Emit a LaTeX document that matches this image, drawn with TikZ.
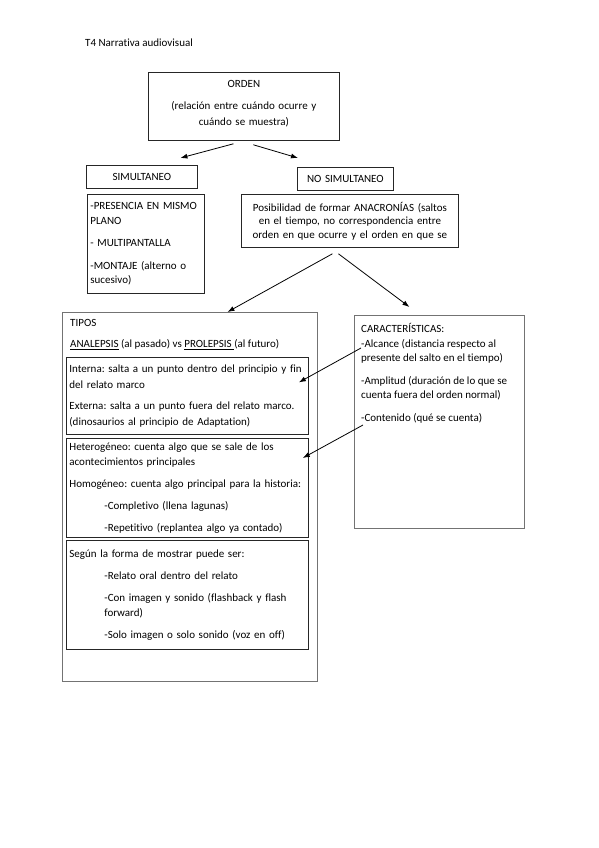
\documentclass[tikz,border=0pt]{standalone}
\usepackage{fontspec}
\setmainfont{Carlito}[Ligatures={TeX,NoCommon}]
\frenchspacing
\usetikzlibrary{calc,arrows.meta}
\tikzset{
  caja/.style={draw=black!85, line width=0.8pt, anchor=north west, inner xsep=3pt, inner ysep=0pt, font=\fontsize{11}{15.5}\selectfont},
  marco/.style={draw=black!55, line width=0.9pt, anchor=north west, inner sep=0pt},
  texto/.style={anchor=north west, inner sep=0pt, align=left, font=\fontsize{11}{14.5}\selectfont},
  flecha/.style={-{Latex[length=7pt,width=5pt]}, line width=0.8pt}
}

\begin{document}
\begin{tikzpicture}[x=1pt,y=-1pt]
	\fill[white] (0,0) rectangle (599,848);
	\useasboundingbox (0,0) rectangle (599,848);

	\node[texto, anchor=west] (titulo) at (85,43) {T4 Narrativa audiovisual};

	% orden y sus dos ramas
	\node[caja, text width=185pt, minimum height=68pt, align=center] (orden) at (148,72)
		{ORDEN\\[6.5pt](relación entre cuándo ocurre y\\cuándo se muestra)\\[-9pt]\mbox{}};
	\node[caja, text width=105pt, minimum height=23pt, align=center] (simultaneo) at (86,165) {SIMULTANEO};
	\node[caja, text width=90pt, minimum height=23pt, align=center] (nosimultaneo) at (297,167) {NO SIMULTANEO};
	\node[caja, text width=111pt, minimum height=99pt, align=left, font=\fontsize{11}{14.5}\selectfont] (simlista) at (87,194)
		{-PRESENCIA EN MISMO\\PLANO\\[8pt]- MULTIPANTALLA\\[8pt]-MONTAJE (alterno o\\sucesivo)};
	\node[caja, text width=211pt, minimum height=53pt, align=center, font=\fontsize{11}{13.5}\selectfont] (anacronias) at (241,194)
		{Posibilidad de formar ANACRONÍAS (saltos\\en el tiempo, no correspondencia entre\\orden en que ocurre y el orden en que se};

	\draw[flecha] ($(orden.south)+(-10.5,3)$) -- ($(simultaneo.north)+(38.5,-7)$);
	\draw[flecha] ($(orden.south)+(9.5,4)$) -- ($(nosimultaneo.north west)+(1,-9)$);

	% tipos
	\node[marco, minimum width=255pt, minimum height=369pt] (tipos) at (62,312) {};
	\node[texto] (tiposT) at (70,319.5)
		{TIPOS\\[6pt]\underline{ANALEPSIS} (al pasado) vs \underline{PROLEPSIS\ }(al futuro)};
	\node[caja, text width=236pt, minimum height=77pt, align=left] (interna) at (66,357)
		{Interna: salta a un punto dentro del principio y fin\\del relato marco\\[6pt]Externa: salta a un punto fuera del relato marco.\\(dinosaurios al principio de Adaptation)};
	\node[caja, text width=236pt, minimum height=99pt, align=left] (homogeneo) at (66,438)
		{Heterogéneo: cuenta algo que se sale de los\\acontecimientos principales\\[6.5pt]Homogéneo: cuenta algo principal para la historia:\\[6.5pt]\hspace*{35pt}-Completivo (llena lagunas)\\[6.5pt]\hspace*{35pt}-Repetitivo (replantea algo ya contado)};
	\node[caja, text width=236pt, minimum height=109pt, align=left] (mostrar) at (66,540)
		{Según la forma de mostrar puede ser:\\[6.5pt]\hspace*{35pt}-Relato oral dentro del relato\\[6.5pt]\hspace*{35pt}-Con imagen y sonido (flashback y flash\\\hspace*{35pt}forward)\\[6.5pt]\hspace*{35pt}-Solo imagen o solo sonido (voz en off)};

	% caracteristicas
	\node[marco, minimum width=170pt, minimum height=213pt] (caracteristicas) at (354,315) {};
	\node[texto] (caracT) at (361,323.5)
		{CARACTERÍSTICAS:\\-Alcance (distancia respecto al\\presente del salto en el tiempo)\\[8pt]-Amplitud (duración de lo que se\\cuenta fuera del orden normal)\\[8pt]-Contenido (qué se cuenta)};

	\draw[flecha] ($(anacronias.south)+(-17.5,6)$) -- ($(tipos.north)+(37.5,0)$);
	\draw[flecha] ($(anacronias.south)+(-11.5,6)$) -- ($(caracteristicas.north)+(-30,-8)$);
	\draw[flecha] ($(caracteristicas.north west)+(7,33)$) -- ($(interna.east)+(-10,-13.5)$);
	\draw[flecha] ($(caracteristicas.north west)+(9,110)$) -- ($(homogeneo.north east)+(-6,20)$);
\end{tikzpicture}
\end{document}
